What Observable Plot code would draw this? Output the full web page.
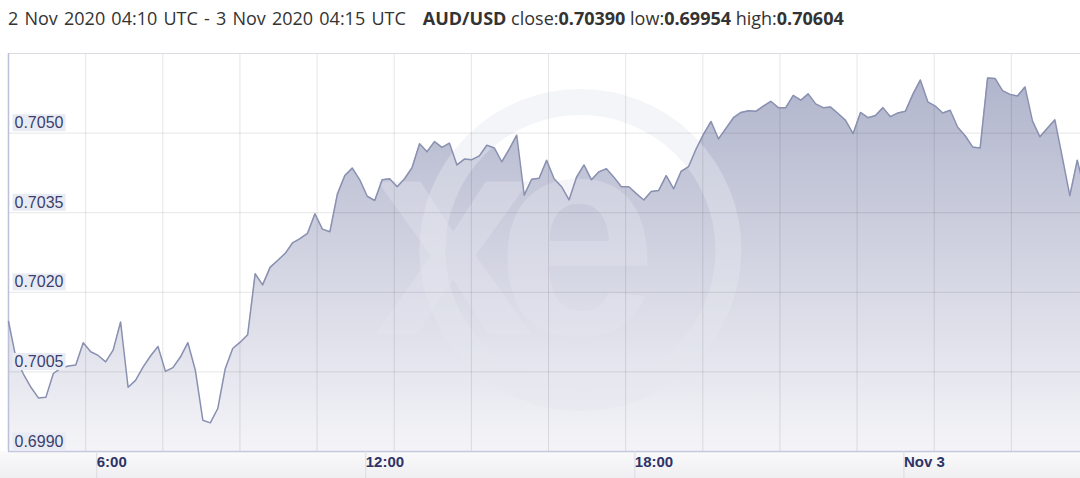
<!DOCTYPE html>
<html><head><meta charset="utf-8">
<script src="https://cdn.jsdelivr.net/npm/d3@7"></script>
<script src="https://cdn.jsdelivr.net/npm/@observablehq/plot@0.6"></script>
<style>
html,body{margin:0;padding:0;background:#fff;overflow:hidden;width:1080px;height:478px}
#hdr{height:40px;box-sizing:border-box;padding:6px 0 0 8px;font-family:"Open Sans",sans-serif;font-size:18px;color:#333;white-space:nowrap;line-height:24px}
#hdr b{font-weight:700}
#hdr .range{word-spacing:1.5px}
#hdr .pair{margin-left:17px}
#chart svg{display:block}
</style></head><body>
<div id="hdr"></div>
<div id="chart"></div>
<script>
const pair = "AUD/USD";
const rangeLabel = "2 Nov 2020 04:10 UTC - 3 Nov 2020 04:15 UTC";
const statNames = ["close", "low", "high"];
const statValues = ["0.70390", "0.69954", "0.70604"];
const startTime = "2020-11-02T04:10:00Z";
const endTime = "2020-11-03T04:15:00Z";
const stepMinutes = 10;
const rates = [
  0.70145, 0.70076, 0.70046, 0.70021, 0.70001, 0.70002, 0.70047, 0.70057, 0.70061, 0.70063,
  0.70105, 0.70088, 0.70081, 0.70069, 0.70091, 0.70144, 0.70021, 0.70034, 0.70059, 0.70080,
  0.70098, 0.70051, 0.70058, 0.70078, 0.70105, 0.70053, 0.69959, 0.69954, 0.69981, 0.70056,
  0.70094, 0.70106, 0.70120, 0.70235, 0.70214, 0.70247, 0.70260, 0.70273, 0.70293, 0.70301,
  0.70311, 0.70348, 0.70319, 0.70314, 0.70385, 0.70420, 0.70434, 0.70412, 0.70381, 0.70373,
  0.70412, 0.70414, 0.70399, 0.70414, 0.70435, 0.70480, 0.70465, 0.70484, 0.70473, 0.70481,
  0.70440, 0.70451, 0.70450, 0.70457, 0.70477, 0.70472, 0.70446, 0.70470, 0.70496, 0.70383,
  0.70413, 0.70415, 0.70449, 0.70414, 0.70399, 0.70374, 0.70417, 0.70440, 0.70412, 0.70427,
  0.70433, 0.70417, 0.70399, 0.70399, 0.70386, 0.70374, 0.70390, 0.70392, 0.70420, 0.70395,
  0.70428, 0.70437, 0.70470, 0.70498, 0.70522, 0.70489, 0.70509, 0.70529, 0.70539, 0.70542,
  0.70541, 0.70551, 0.70560, 0.70548, 0.70548, 0.70571, 0.70562, 0.70574, 0.70555, 0.70548,
  0.70549, 0.70537, 0.70524, 0.70499, 0.70539, 0.70529, 0.70533, 0.70548, 0.70531, 0.70538,
  0.70541, 0.70573, 0.70600, 0.70559, 0.70551, 0.70538, 0.70543, 0.70511, 0.70495, 0.70474,
  0.70472, 0.70604, 0.70603, 0.70580, 0.70573, 0.70570, 0.70587, 0.70523, 0.70493, 0.70509,
  0.70525, 0.70454, 0.70382, 0.70449, 0.70390
];
const yTicks = [0.6990, 0.7005, 0.7020, 0.7035, 0.7050];
const yTop = 0.7065;
const xTickTimes = ["2020-11-02T06:00:00Z", "2020-11-02T12:00:00Z", "2020-11-02T18:00:00Z", "2020-11-03T00:00:00Z"];
const xTickLabels = ["6:00", "12:00", "18:00", "Nov 3"];
const gridDivisions = 14;

// header
document.getElementById("hdr").innerHTML =
  `<span class="range">${rangeLabel}</span><span class="pair"><b>${pair}</b></span> ` +
  statNames.map((n, i) => `${n}:<b>${statValues[i]}</b>`).join(" ");

const t0 = new Date(startTime), t1 = new Date(endTime);
const data = rates.map((v, i) => ({t: new Date(+t0 + i * stepMinutes * 60000), v}));
const yMin = yTicks[0];
const gridTimes = d3.range(gridDivisions + 1).map(i => new Date(+t0 + i * (t1 - t0) / gridDivisions));
const tickDates = xTickTimes.map(s => new Date(s));
const labelMap = new Map(tickDates.map((d, i) => [+d, xTickLabels[i]]));
const yLabelSet = new Set(yTicks.map(d => d.toFixed(4)));

const decor = (index, scales, values, dims) => {
  const g = d3.create("svg:g");
  const defs = g.append("defs");
  const lg = defs.append("linearGradient").attr("id", "areaGrad").attr("x1", 0).attr("y1", 0).attr("x2", 0).attr("y2", 1);
  lg.append("stop").attr("offset", "0%").attr("stop-color", "#b1b5cc");
  lg.append("stop").attr("offset", "100%").attr("stop-color", "#f4f4f8");
  const bg = defs.append("linearGradient").attr("id", "bandGrad").attr("x1", 0).attr("y1", 0).attr("x2", 0).attr("y2", 1);
  bg.append("stop").attr("offset", "0%").attr("stop-color", "#fafafb");
  bg.append("stop").attr("offset", "100%").attr("stop-color", "#efeff2");
  g.append("rect").attr("x", 0).attr("y", dims.height - dims.marginBottom)
    .attr("width", dims.width).attr("height", dims.marginBottom).attr("fill", "url(#bandGrad)");
  return g.node();
};

const watermark = (index, scales, values, dims) => {
  const g = d3.create("svg:g").attr("pointer-events", "none");
  const fw = dims.width - dims.marginLeft - dims.marginRight;
  const fh = dims.height - dims.marginTop - dims.marginBottom;
  const cx = dims.marginLeft + fw * 0.530;
  const cy = dims.marginTop + fh * 0.495;
  g.append("circle").attr("cx", cx).attr("cy", cy).attr("r", 148)
    .attr("fill", "none").attr("stroke", "#e4e6ef").attr("stroke-opacity", 0.42).attr("stroke-width", 26);
  g.append("text").attr("x", dims.marginLeft + fw * 0.452).attr("y", dims.marginTop + fh * 0.708)
    .attr("text-anchor", "middle").attr("font-family", "'Liberation Sans', Arial, sans-serif")
    .attr("font-weight", "bold").attr("font-size", 290).attr("letter-spacing", -38)
    .attr("fill", "#e4e6ef").attr("fill-opacity", 0.38).text("xe");
  return g.node();
};

const plot = Plot.plot({
  width: 1080, height: 438,
  marginLeft: 8, marginRight: -8, marginTop: 13, marginBottom: 27,
  style: {background: "transparent", fontFamily: "'Liberation Sans', Arial, sans-serif", overflow: "hidden"},
  x: {type: "utc", domain: [t0, t1], axis: null},
  y: {domain: [yMin, yTop], axis: null},
  marks: [
    decor,
    Plot.areaY(data, {x: "t", y1: () => yMin, y2: "v", fill: "url(#areaGrad)"}),
    watermark,
    Plot.ruleY(yTicks.slice(1), {stroke: "#000", strokeOpacity: 0.1}),
    Plot.ruleX(gridTimes.slice(1), {stroke: "#000", strokeOpacity: 0.1}),
    Plot.ruleY([yTop], {stroke: "#dcdce2"}),
    Plot.ruleX([t0], {stroke: "#bcc0d8", strokeWidth: 1.5}),
    Plot.ruleY([yMin], {stroke: "#c4c7dd", strokeWidth: 1.5}),
    Plot.lineY(data, {x: "t", y: "v", stroke: "#8990b0", strokeWidth: 1.5}),
    Plot.text(yTicks, {y: d => d, frameAnchor: "left", dx: 6, dy: -10, text: d => d.toFixed(4),
      textAnchor: "start", fill: "#3b406e", fontSize: 16}),
    Plot.axisX(tickDates, {tickSize: 27, tickPadding: -22, tickFormat: d => labelMap.get(+d), label: null,
      textAnchor: "start", dx: 6, stroke: "#dcdce0", fill: "#2e3366", fontSize: 15, fontWeight: "bold"})
  ]
});
document.getElementById("chart").appendChild(plot);

// background boxes behind y labels
d3.select(plot).selectAll("text").filter(function () { return yLabelSet.has(this.textContent); }).each(function () {
  const b = this.getBBox();
  const r = d3.select(this.parentNode).insert("rect", () => this)
    .attr("x", b.x - 2).attr("y", b.y).attr("width", b.width + 4).attr("height", b.height)
    .attr("fill", "#e9ebf4");
  const tr = this.getAttribute("transform");
  if (tr) r.attr("transform", tr);
});
</script>
</body></html>
